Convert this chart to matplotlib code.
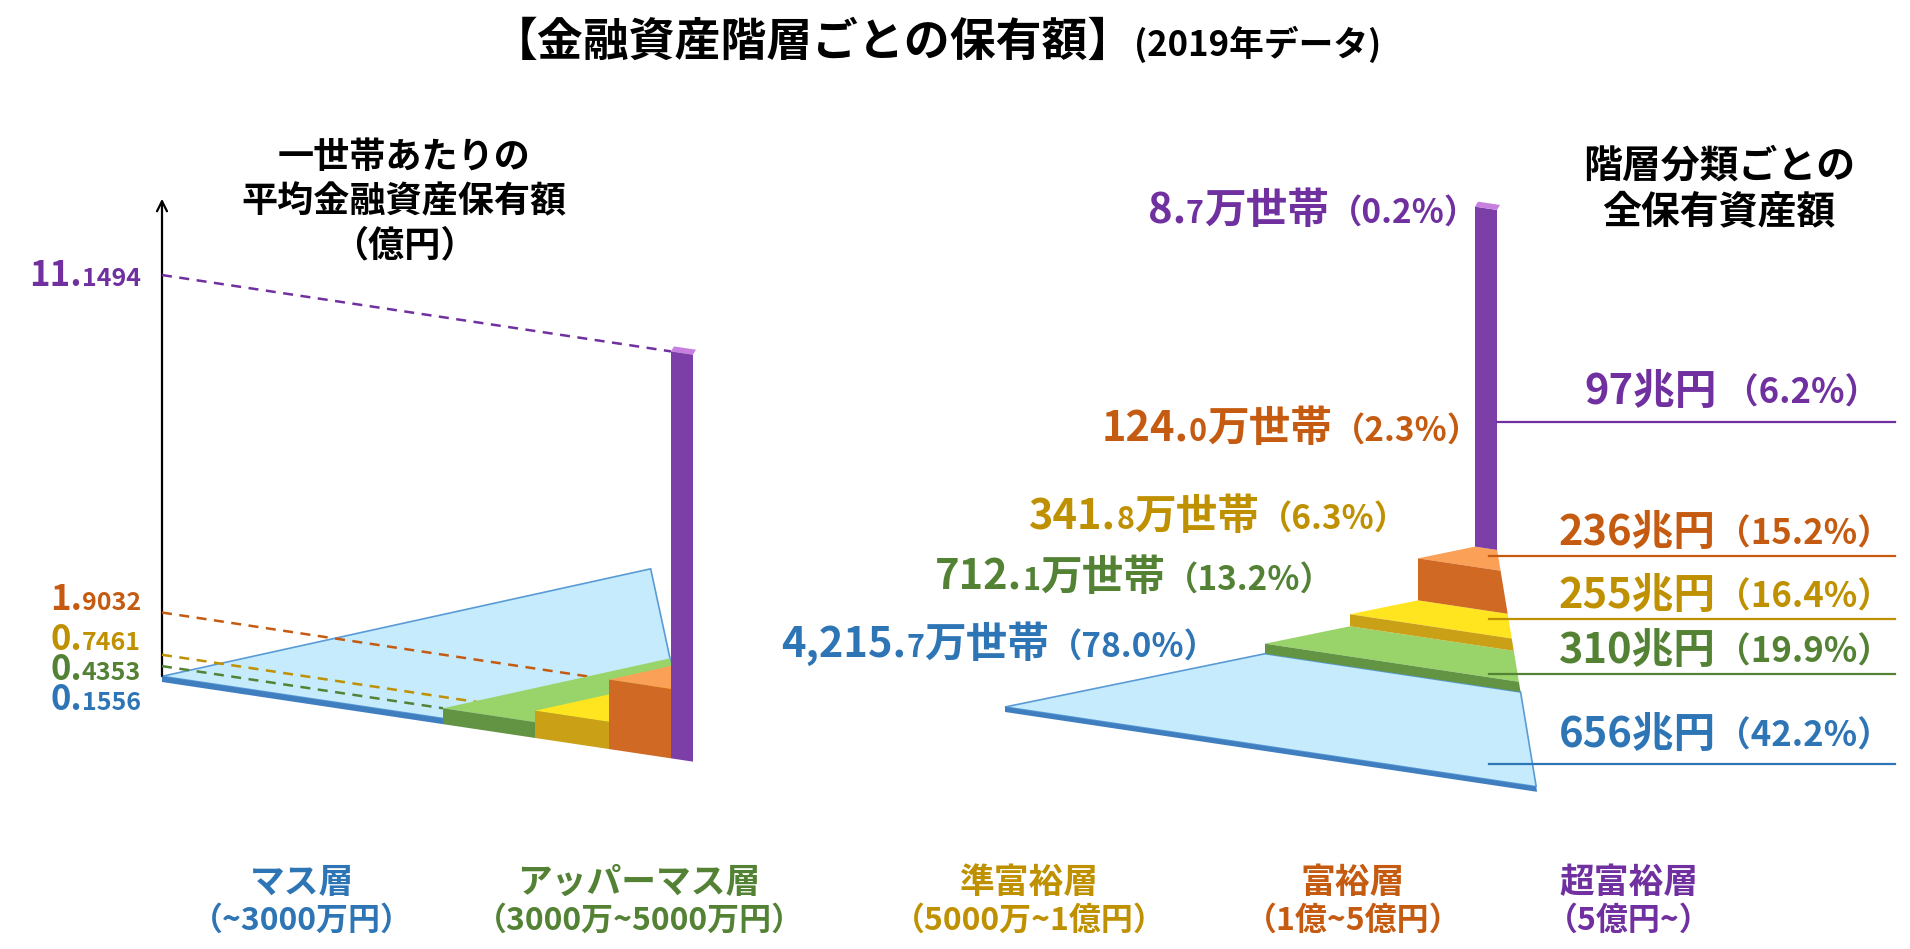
import matplotlib
matplotlib.use("Agg")
import matplotlib.pyplot as plt
from matplotlib.patches import Polygon
from matplotlib.offsetbox import TextArea, HPacker, AnnotationBbox

FONT = ['Noto Sans CJK JP', 'DejaVu Sans']
plt.rcParams['font.family'] = FONT

# ---- data ----
tiers = ['マス層', 'アッパーマス層', '準富裕層', '富裕層', '超富裕層']
tier_ranges = ['（~3000万円）', '（3000万~5000万円）', '（5000万~1億円）',
               '（1億~5億円）', '（5億円~）']
avg_assets = [0.1556, 0.4353, 0.7461, 1.9032, 11.1494]     # 億円 / 世帯
households = [4215.7, 712.1, 341.8, 124.0, 8.7]            # 万世帯
household_share = [78.0, 13.2, 6.3, 2.3, 0.2]              # %
total_assets = [656, 310, 255, 236, 97]                    # 兆円
asset_share = [42.2, 19.9, 16.4, 15.2, 6.2]                # %

# ---- style / layout ----
txt_clr = ['#2E75B6', '#548235', '#BF9000', '#C55A11', '#7030A0']
top_clr = ['#C5EBFC', '#99D46B', '#FFE51F', '#FBA057']
front_clr = ['#3F7FC0', '#629444', '#C9A016', '#D06923', '#7B3FA7']
cap_clr = '#C77FE0'
edge_clr = '#5B9BD5'

K = 36.5                 # px per 億円 (left chart)
front_slope = 0.15
depth_slope = -0.205

# left chart
left_x = [162, 443, 535, 609, 671, 693]
left_ground0 = 682
left_edge = (652, 575, 0.216)      # x0, y0, dx/dy
left_label_y = [699, 670, 640, 600, 276]

# right chart
right_start = (1005, 712)
right_depth = [260, 85, 68, 57]
right_heights = [5, 10, 12, 42, 340]
right_col_w = 22
right_edge = (1497, 549, 0.165)

fig = plt.figure(figsize=(19.1, 9.49), dpi=100)
ax = fig.add_axes([0, 0, 1, 1])
ax.set_xlim(0, 1910)
ax.set_ylim(949, 0)
ax.axis('off')


def poly(pts, fc, ec='none', lw=0, z=2):
    ax.add_patch(Polygon(pts, closed=True, fc=fc, ec=ec, lw=lw, zorder=z))


def hit_edge(p, m, edge):
    ex, ey, r = edge
    y = (p[1] + m * (ex - r * ey - p[0])) / (1 - m * r)
    return (ex + r * (y - ey), y)


def rich(parts, x, y, align, color):
    kids = [TextArea(t, textprops=dict(fontsize=s, color=color, fontweight='bold',
                                       family=FONT)) for t, s in parts]
    box = HPacker(children=kids, align='baseline', pad=0, sep=0)
    ab = AnnotationBbox(box, (x, y), xycoords='data', box_alignment=align,
                        frameon=False, pad=0, zorder=5)
    ax.add_artist(ab)


# ---- title ----
rich([('【金融資産階層ごとの保有額】', 33), ('(2019年データ)', 25)], 936, 43,
     (0.5, 0.5), 'black')

# ---- left chart ----
def g(x):
    return left_ground0 + front_slope * (x - left_x[0])

ax.annotate('', xy=(left_x[0], 196), xytext=(left_x[0], g(left_x[0]) - 3),
            arrowprops=dict(arrowstyle='->', color='black', lw=1.6,
                            mutation_scale=18))

for i, v in enumerate(avg_assets):
    x0, x1 = left_x[i], left_x[i + 1]
    h = v * K
    tl = (x0, g(x0) - h)
    if i < 4:
        b = hit_edge(tl, depth_slope - 0.015, left_edge)
        f = hit_edge(tl, front_slope, left_edge)
        ec = edge_clr if i == 0 else 'none'
        poly([tl, b, f], top_clr[i], ec, 1.2 if i == 0 else 0, z=2 + 2 * i)
    else:
        poly([tl, (x1, g(x1) - h), (x1 + 3, g(x1) - h - 5), (x0 + 3, g(x0) - h - 5)],
             cap_clr, z=2 + 2 * i)
    poly([(x0, g(x0)), (x1, g(x1)), (x1, g(x1) - h), tl], front_clr[i], z=3 + 2 * i)
    # dashed guide from the axis, drawn over the blue base
    if i > 0:
        ax.plot([left_x[0], x0], [g(left_x[0]) - h, tl[1]], ls=(0, (4, 3)),
                lw=1.8, color=txt_clr[i], zorder=3.5)
    whole, dec = f'{v:.4f}'.split('.')
    rich([(whole + '.', 25), (dec, 18)], 141, left_label_y[i], (1, 0.5), txt_clr[i])

ax.text(404, 202, '一世帯あたりの\n平均金融資産保有額\n（億円）', ha='center',
        va='center', fontsize=26, fontweight='bold', linespacing=1.25)

# ---- right chart ----
bl = right_start
for i in range(5):
    h = right_heights[i]
    tl = (bl[0], bl[1] - h)
    if i < 4:
        fr_t = hit_edge(tl, front_slope, right_edge)
        fr_b = hit_edge(bl, front_slope, right_edge)
        b = (tl[0] + right_depth[i], tl[1] + depth_slope * right_depth[i])
        rb = hit_edge(b, front_slope, right_edge)
        ec = edge_clr if i == 0 else 'none'
        poly([tl, b, rb, fr_t], top_clr[i], ec, 1.2 if i == 0 else 0, z=2 + 2 * i)
        poly([bl, fr_b, fr_t, tl], front_clr[i], z=3 + 2 * i)
        bl = b
    else:
        x1 = bl[0] + right_col_w
        y1 = bl[1] + front_slope * right_col_w
        poly([bl, (x1, y1), (x1, y1 - h), tl], front_clr[i], z=12)
        poly([tl, (x1, y1 - h), (x1 + 3, y1 - h - 5), (tl[0] + 3, tl[1] - 5)],
             cap_clr, z=12)

ax.text(1719, 189, '階層分類ごとの\n全保有資産額', ha='center', va='center',
        fontsize=28, fontweight='bold', linespacing=1.2)

# household labels
hh_pos = [(1218, 645), (1334, 578), (1408, 517), (1481, 429), (1478, 211)]
for i, n in enumerate(households):
    s = f'{n:,.1f}'
    rich([(s[:-1], 30), (s[-1], 22), ('万世帯', 30),
          (f'（{household_share[i]:.1f}%）', 24)],
         hh_pos[i][0], hh_pos[i][1], (1, 0.5), txt_clr[i])

# total asset labels + leader lines
amt_pos = [(1559, 735), (1559, 651), (1559, 596), (1559, 533), (1584, 392)]
line_y = [764, 674, 619, 556, 422]
line_x0 = [1489, 1489, 1489, 1489, 1497]
for i, a in enumerate(total_assets):
    gap = ' ' if i == 4 else ''
    rich([(f'{a}兆円', 30), (f'{gap}（{asset_share[i]:.1f}%）', 25)],
         amt_pos[i][0], amt_pos[i][1], (0, 0.5), txt_clr[i])
    ax.plot([line_x0[i], 1895], [line_y[i], line_y[i]], color=txt_clr[i],
            lw=1.6, zorder=13)

# ---- tier names ----
tier_x = [302, 639, 1029, 1353, 1629]
for i, t in enumerate(tiers):
    ax.text(tier_x[i], 882, t, ha='center', va='center', fontsize=25,
            fontweight='bold', color=txt_clr[i])
    ax.text(tier_x[i], 921, tier_ranges[i], ha='center', va='center',
            fontsize=23, fontweight='bold', color=txt_clr[i])

fig.savefig('out.png', dpi=100)
